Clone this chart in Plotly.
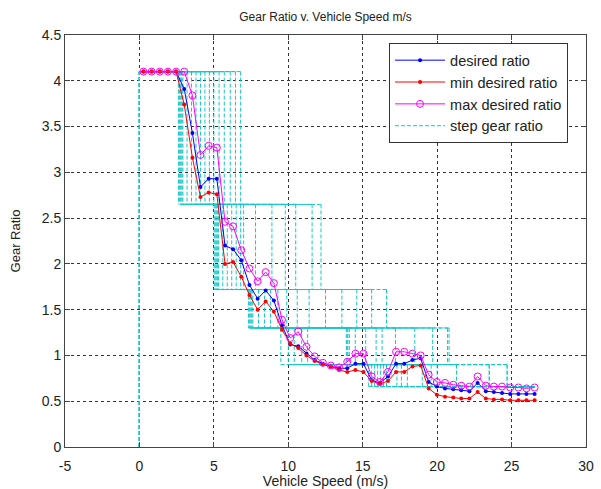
import plotly.graph_objects as go

# ---------------- data ----------------
speed = [0.27, 0.82, 1.37, 1.91, 2.46, 3.01, 3.56, 4.10, 4.65, 5.20,
         5.75, 6.29, 6.84, 7.39, 7.94, 8.48, 9.03, 9.58, 10.13, 10.67,
         11.22, 11.77, 12.32, 12.86, 13.41, 13.96, 14.51, 15.05, 15.60, 16.15,
         16.70, 17.24, 17.79, 18.34, 18.89, 19.43, 19.98, 20.53, 21.08, 21.62,
         22.17, 22.72, 23.27, 23.81, 24.36, 24.91, 25.46, 26.00, 26.55]

desired_ratio = [4.1, 4.1, 4.1, 4.1, 4.1, 3.91, 3.43, 2.84, 2.93, 2.93,
                 2.20, 2.16, 2.04, 1.77, 1.62, 1.71, 1.60, 1.33, 1.12, 1.10,
                 1.02, 0.95, 0.91, 0.88, 0.86, 0.86, 0.91, 0.91, 0.73, 0.70,
                 0.77, 0.91, 0.91, 0.95, 0.97, 0.71, 0.66, 0.64, 0.63, 0.62,
                 0.61, 0.70, 0.61, 0.60, 0.59, 0.58, 0.58, 0.58, 0.58]

min_ratio = [4.1, 4.1, 4.1, 4.1, 4.1, 3.74, 3.16, 2.73, 2.78, 2.76,
             2.00, 2.02, 1.86, 1.66, 1.50, 1.59, 1.48, 1.28, 1.13, 1.08,
             1.00, 0.94, 0.90, 0.88, 0.84, 0.82, 0.84, 0.82, 0.72, 0.69,
             0.72, 0.82, 0.82, 0.88, 0.89, 0.64, 0.57, 0.55, 0.54, 0.53,
             0.53, 0.60, 0.53, 0.52, 0.52, 0.51, 0.51, 0.51, 0.51]

max_ratio = [4.1, 4.1, 4.1, 4.1, 4.1, 4.1, 3.84, 3.19, 3.29, 3.27,
             2.46, 2.41, 2.15, 1.95, 1.81, 1.91, 1.79, 1.39, 1.19, 1.26,
             1.095, 0.99, 0.92, 0.89, 0.87, 0.93, 1.02, 1.02, 0.77, 0.71,
             0.82, 1.04, 1.04, 1.02, 1.00, 0.79, 0.71, 0.70, 0.68, 0.67,
             0.66, 0.77, 0.67, 0.66, 0.66, 0.65, 0.65, 0.64, 0.65]

# gear levels of the step gear ratio lines and the shift speeds of each line
gear_levels = [4.1, 2.65, 1.72, 1.30, 0.90, 0.66]
shift_1_2 = [2.62, 2.68, 2.74, 2.80, 2.86, 2.92, 3.2, 3.5, 3.8, 4.1, 4.4, 4.7, 5.0, 5.35, 5.7, 6.1, 6.45, 6.8]
shift_2_3 = [5.02, 5.08, 5.14, 5.20, 5.26, 5.32, 5.6, 5.9, 6.2, 6.5, 6.8, 7.0, 7.8, 8.9, 9.8, 10.5, 11.6, 12.2]
shift_3_4 = [7.32, 7.38, 7.44, 7.50, 7.56, 7.62, 8.0, 8.4, 8.8, 9.3, 9.9, 10.6, 11.4, 12.5, 13.6, 14.6, 15.6, 16.6]
shift_4_5 = [9.5, 10.0, 10.4, 10.9, 11.3, 13.9, 13.95, 14.0, 14.1, 14.5, 15.2, 15.9, 16.3, 17.2, 18.5, 19.7, 20.7, 20.8]
shift_5_6 = [15.4, 15.6, 15.8, 16.0, 16.2, 16.4, 16.6, 17.3, 17.6, 18.0, 19.0, 19.6, 20.0, 21.3, 23.5, 23.5, 24.7, 24.7]
step_start = 0.0
step_end = 26.55

x_ticks = [-5, 0, 5, 10, 15, 20, 25, 30]
x_tick_text = ['-5', '0', '5', '10', '15', '20', '25', '30']
y_ticks = [0, 0.5, 1, 1.5, 2, 2.5, 3, 3.5, 4, 4.5]
y_tick_text = ['0', '0.5', '1', '1.5', '2', '2.5', '3', '3.5', '4', '4.5']

# ---------------- build step line segments ----------------
sx, sy = [], []
for k in range(len(shift_1_2)):
    shifts = [shift_1_2[k], shift_2_3[k], shift_3_4[k], shift_4_5[k], shift_5_6[k]]
    sx += [step_start, step_start, None]
    sy += [0, gear_levels[0], None]
    bounds = [step_start] + shifts + [step_end]
    for g in range(len(gear_levels)):
        sx += [bounds[g + 1], bounds[g], None]
        sy += [gear_levels[g], gear_levels[g], None]
        if g < len(gear_levels) - 1:
            sx += [bounds[g + 1], bounds[g + 1], None]
            sy += [gear_levels[g], gear_levels[g + 1], None]

FONT = 'Liberation Sans, Arial, sans-serif'
fig = go.Figure()

fig.add_trace(go.Scatter(x=sx, y=sy, mode='lines', name='step gear ratio',
                         line=dict(color='rgb(20,200,200)', width=1, dash='4px,2px'),
                         connectgaps=False, legendrank=4))
fig.add_trace(go.Scatter(x=speed, y=desired_ratio, mode='lines+markers', name='desired ratio',
                         line=dict(color='rgb(0,0,255)', width=1),
                         marker=dict(symbol='circle', size=4, color='rgb(0,0,255)'),
                         legendrank=1))
fig.add_trace(go.Scatter(x=speed, y=min_ratio, mode='lines+markers', name='min desired ratio',
                         line=dict(color='rgb(255,0,0)', width=1),
                         marker=dict(symbol='circle', size=4, color='rgb(255,0,0)'),
                         legendrank=2))
fig.add_trace(go.Scatter(x=speed, y=max_ratio, mode='lines+markers', name='max desired ratio',
                         line=dict(color='rgb(255,0,255)', width=1),
                         marker=dict(symbol='circle-open', size=7, color='rgb(255,0,255)',
                                     line=dict(width=1, color='rgb(255,0,255)')),
                         legendrank=3))

axis_common = dict(showgrid=True, gridcolor='#333', griddash='dot', gridwidth=1,
                   showline=True, linecolor='#444', linewidth=1, mirror='ticks',
                   ticks='inside', ticklen=5, tickcolor='#444', zeroline=False,
                   automargin=False,
                   tickfont=dict(family=FONT, size=14, color='#222'))

fig.update_layout(
    width=601, height=489,
    margin=dict(l=65, r=15, t=35, b=42),
    paper_bgcolor='white', plot_bgcolor='white',
    font=dict(family=FONT, size=13, color='#222'),
    title=dict(text='Gear Ratio v. Vehicle Speed m/s', x=0.5, xref='paper', xanchor='center',
               y=1 - 17 / 489, yref='container', yanchor='middle',
               font=dict(family=FONT, size=12, color='#222')),
    showlegend=True,
    legend=dict(x=0.622, y=0.98, xanchor='left', yanchor='top', bgcolor='white',
                bordercolor='#333', borderwidth=1, font=dict(family=FONT, size=14.5, color='#222'),
                tracegroupgap=0, itemwidth=50),
)
fig.update_xaxes(range=[-5, 30], tickmode='array', tickvals=x_ticks, ticktext=x_tick_text,
                 ticklabelstandoff=6,
                 title=dict(text='Vehicle Speed (m/s)', font=dict(family=FONT, size=14, color='#222'), standoff=1),
                 **axis_common)
fig.update_yaxes(range=[0, 4.5], tickmode='array', tickvals=y_ticks, ticktext=y_tick_text,
                 title=dict(text='Gear Ratio', font=dict(family=FONT, size=13, color='#222'), standoff=18),
                 **axis_common)

fig.write_html('out.html')
